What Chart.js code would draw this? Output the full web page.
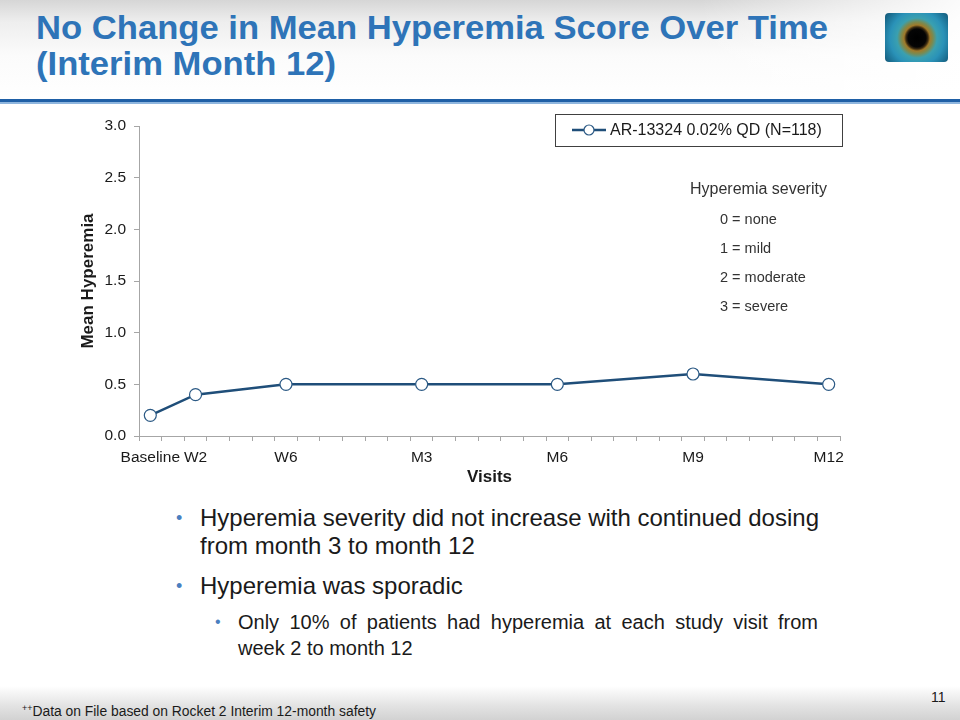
<!DOCTYPE html>
<html>
<head>
<meta charset="utf-8">
<script src="https://cdn.jsdelivr.net/npm/chart.js@4.4.1/dist/chart.umd.min.js"></script>
<style>
  html, body { margin: 0; padding: 0; }
  body { width: 960px; height: 720px; position: relative; overflow: hidden; background: #fff;
         font-family: "Liberation Sans", Arial, sans-serif; color: #1a1a1a; }
  #hdr { position: absolute; left: 0; top: 0; width: 960px; height: 99px;
         background: linear-gradient(180deg, #d6d6d6 0px, #eeeeee 22px, #fbfbfb 55px, #ffffff 99px); }
  #hdrR { position: absolute; left: 700px; top: 0; width: 260px; height: 99px;
          background: linear-gradient(90deg, rgba(255,255,255,0) 0%, rgba(255,255,255,0.9) 100%); }
  #bar1 { position: absolute; left: 0; top: 99px; width: 960px; height: 3px; background: #1f5fa6; }
  #bar2 { position: absolute; left: 0; top: 102px; width: 960px; height: 2px; background: #8fb6de; }
  .ttl { position: absolute; left: 36px; font-weight: bold; font-size: 33px; line-height: 36px;
         color: #2e74b8; white-space: nowrap; transform-origin: 0 0; }
  #eye { position: absolute; left: 885px; top: 13px; width: 63px; height: 49px; border-radius: 4px;
         background: radial-gradient(circle at 32px 25px, #000 0px, #050505 9px, #3a2a10 11px, #a07a2a 13px, #7a8a50 16px, #3aa0b0 20px, #2a92b8 27px, #1b6f92 35px, #0d3a55 46px); }
  #foot { position: absolute; left: 0; top: 686px; width: 960px; height: 34px;
          background: linear-gradient(180deg, #ffffff 0%, #e2e2e2 60%, #d2d2d2 100%); }
  #foottxt { position: absolute; left: 22px; top: 699px; font-size: 14px; line-height: 18px; white-space: nowrap; transform-origin: 0 0; color: #1a1a1a; }
  #foottxt sup { font-size: 9px; vertical-align: 5px; }
  #pg { position: absolute; left: 931px; top: 689px; font-size: 14px; line-height: 16px; color: #1a1a1a; }
  .bl { position: absolute; white-space: nowrap; color: #1a1a1a; }
  .dot { position: absolute; color: #4a7fc0; }
  canvas { position: absolute; left: 0; top: 0; }
</style>
</head>
<body>
<div id="hdr"></div><div id="hdrR"></div>
<div id="bar1"></div><div id="bar2"></div>
<div class="ttl" id="t1" style="top:10px">No Change in Mean Hyperemia Score Over Time</div>
<div class="ttl" id="t2" style="top:46px">(Interim Month 12)</div>
<div id="eye"></div>

<div class="dot" style="left:176px; top:506px; font-size:18px; line-height:24px;">•</div>
<div class="bl" style="left:200px; top:504px; font-size:24px; line-height:28px;">Hyperemia severity did not increase with continued dosing</div>
<div class="bl" style="left:200px; top:532px; font-size:24px; line-height:28px;">from month 3 to month 12</div>
<div class="dot" style="left:176px; top:574px; font-size:18px; line-height:24px;">•</div>
<div class="bl" style="left:200px; top:572px; font-size:24px; line-height:28px;">Hyperemia was sporadic</div>
<div class="dot" style="left:215px; top:611px; font-size:16px; line-height:22px;">•</div>
<div class="bl" style="left:238px; top:609px; font-size:20px; line-height:26px; width:580px; text-align:justify; text-align-last:justify;">Only 10% of patients had hyperemia at each study visit from</div>
<div class="bl" style="left:238px; top:635px; font-size:20px; line-height:26px;">week 2 to month 12</div>

<div id="foot"></div>
<div id="foottxt"><sup>++</sup>Data on File based on Rocket 2 Interim 12-month safety</div>
<div id="pg">11</div>

<canvas id="c" width="960" height="720"></canvas>

<script>
// ---- data ----
const visitLabels = ['Baseline', 'W2', 'W6', 'M3', 'M6', 'M9', 'M12'];
const visitSlots  = [0, 2, 6, 12, 18, 24, 30];        // position of each visit on the 31-slot axis
const meanHyperemia = [0.2, 0.4, 0.5, 0.5, 0.5, 0.6, 0.5];
const slotCount = 31;
const yTicks = [0.0, 0.5, 1.0, 1.5, 2.0, 2.5, 3.0];
const seriesName = 'AR-13324 0.02% QD (N=118)';
const severityTitle = 'Hyperemia severity';
const severityLines = ['0 = none', '1 = mild', '2 = moderate', '3 = severe'];

// build category labels and data
const labels = new Array(slotCount).fill('');
const values = new Array(slotCount).fill(null);
visitSlots.forEach((s, i) => { labels[s] = visitLabels[i]; values[s] = meanHyperemia[i]; });

// fit title widths
(function () {
  const t1 = document.getElementById('t1'), t2 = document.getElementById('t2');
  const s = 792 / t1.getBoundingClientRect().width;
  t1.style.transform = 'scaleX(' + s + ')';
  t2.style.transform = 'scaleX(' + s + ')';
  const f = document.getElementById('foottxt');
  f.style.transform = 'scaleX(' + (354 / f.getBoundingClientRect().width) + ')';
})();

const LINE = '#1f4e79';
const AXIS = '#a6a6a6';
const FONT = '"Liberation Sans", Arial, sans-serif';

const overlay = {
  id: 'overlay',
  afterDraw(chart) {
    const ctx = chart.ctx;
    ctx.save();
    // legend box
    ctx.strokeStyle = '#404040';
    ctx.lineWidth = 1;
    ctx.strokeRect(555.5, 114.5, 287, 32);
    ctx.strokeStyle = LINE;
    ctx.lineWidth = 2.5;
    ctx.beginPath(); ctx.moveTo(572, 130); ctx.lineTo(606, 130); ctx.stroke();
    ctx.beginPath(); ctx.arc(589, 130, 5, 0, Math.PI * 2);
    ctx.fillStyle = '#fff'; ctx.fill();
    ctx.lineWidth = 1.2; ctx.strokeStyle = '#2c5a85'; ctx.stroke();
    ctx.fillStyle = '#1a1a1a';
    ctx.font = '16px ' + FONT;
    ctx.textBaseline = 'middle';
    ctx.textAlign = 'left';
    ctx.fillText(seriesName, 610, 131);
    // severity key
    ctx.fillStyle = '#333';
    ctx.font = '16px ' + FONT;
    ctx.fillText(severityTitle, 690, 190);
    ctx.font = '14.5px ' + FONT;
    severityLines.forEach((t, i) => ctx.fillText(t, 720, 220 + i * 29));
    ctx.restore();
  }
};

new Chart(document.getElementById('c'), {
  type: 'line',
  data: {
    labels: labels,
    datasets: [{
      label: seriesName,
      data: values,
      spanGaps: true,
      borderColor: LINE,
      borderWidth: 2.5,
      tension: 0,
      pointRadius: 6,
      pointBorderWidth: 1.2,
      pointBorderColor: '#2c5a85',
      pointBackgroundColor: '#ffffff'
    }]
  },
  options: {
    responsive: false,
    animation: false,
    layout: { padding: { top: 126, left: 0, right: 120, bottom: 224 } },
    plugins: { legend: { display: false }, tooltip: { enabled: false } },
    scales: {
      x: {
        type: 'category',
        offset: true,
        afterFit(s) { s.height = 60; },
        grid: { offset: true, drawOnChartArea: false, drawTicks: true, tickLength: 5, color: AXIS, lineWidth: 1 },
        border: { color: AXIS, width: 1 },
        ticks: { autoSkip: false, maxRotation: 0, minRotation: 0, padding: 7, color: '#1a1a1a',
                 font: { family: FONT, size: 15.5 } },
        title: { display: true, text: 'Visits', color: '#1a1a1a', padding: { top: 0, bottom: 8 },
                 font: { family: FONT, size: 17, weight: 'bold' } }
      },
      y: {
        min: 0, max: 3,
        afterFit(s) { s.width = 139; },
        afterBuildTicks(s) { s.ticks = yTicks.map(v => ({ value: v })); },
        grid: { drawOnChartArea: false, drawTicks: true, tickLength: 5, color: AXIS },
        border: { color: AXIS, width: 1 },
        ticks: { padding: 8, color: '#1a1a1a', font: { family: FONT, size: 15.5 },
                 callback: v => Number(v).toFixed(1) },
        title: { display: true, text: 'Mean Hyperemia', color: '#1a1a1a', padding: { top: 78, bottom: 0 },
                 font: { family: FONT, size: 17, weight: 'bold' } }
      }
    }
  },
  plugins: [overlay]
});
</script>
</body>
</html>
